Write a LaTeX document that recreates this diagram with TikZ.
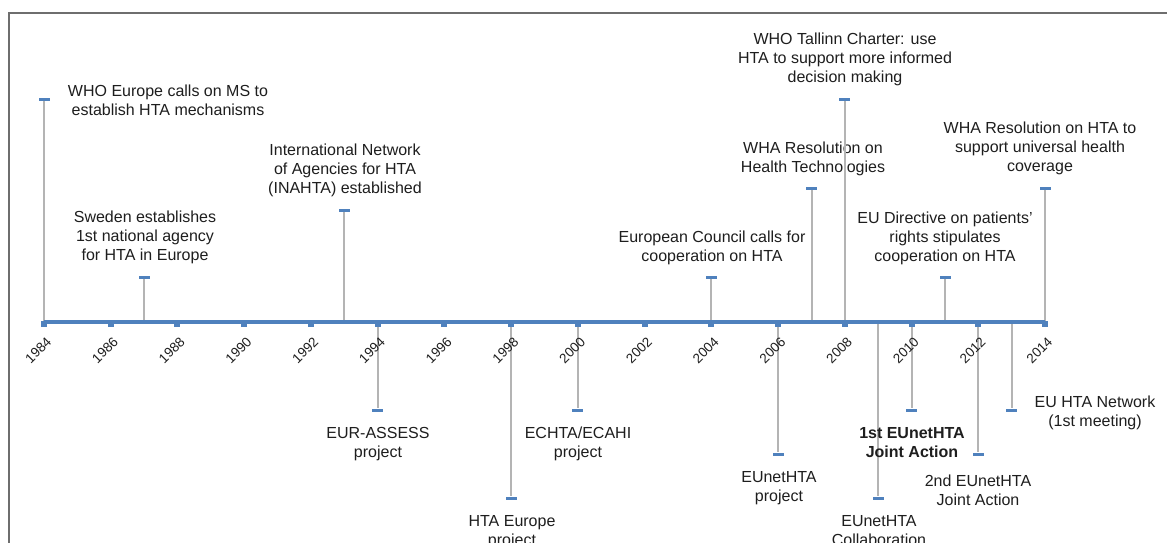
\documentclass[tikz,border=0pt]{standalone}
\usepackage{fontspec}
\setmainfont{Liberation Sans}
\definecolor{axisblue}{RGB}{79,129,189}
\definecolor{stemgray}{RGB}{180,180,180}
\definecolor{textgray}{RGB}{30,30,30}
\definecolor{framegray}{RGB}{110,110,110}

% one event: year, marker y, label centre x, first-line centre y, extra label style, text
\newcommand\tlevent[6]{%
  \pgfmathsetmacro\evx{44+(#1-1984)*33.37}%
  \coordinate (a#1) at (\evx,322);
  \node[evtmark] (m#1) at (\evx,#2) {};
  \draw[stemline] (a#1) -- (m#1);
  \node[eventlbl,#5] (l#1) at (#3,#4-6) {#6};
}

\begin{document}
\begin{tikzpicture}[x=1pt,y=-1pt,
  stemline/.style={draw=stemgray,line width=2pt},
  evtmark/.style={rectangle,fill=axisblue,draw=none,minimum width=11pt,minimum height=3pt,inner sep=0pt},
  eventlbl/.style={align=center,font=\fontsize{16}{19}\selectfont,text=textgray,inner sep=0pt,anchor=north},
  boldlbl/.style={font=\fontsize{16}{19}\selectfont\bfseries},
  plainlbl/.style={},
  yearlbl/.style={font=\fontsize{13.5}{15}\selectfont,text=textgray,rotate=45,anchor=north east,inner sep=0pt},
  tickbox/.style={rectangle,fill=axisblue,draw=none,minimum width=6pt,minimum height=6pt,inner sep=0pt}
]
\useasboundingbox (0,0) rectangle (1167,542);
\fill[white] (0,0) rectangle (1167,542);

% chart frame
\draw[framegray,line width=1.3pt] (9,560) -- (9,13) -- (1180,13);

% events above the axis
\tlevent{1984}{99}{168}{91}{plainlbl}{WHO Europe calls on MS to\\establish HTA mechanisms}
\tlevent{1987}{277}{145}{217}{plainlbl}{Sweden establishes\\1st national agency\\for HTA in Europe}
\tlevent{1993}{210}{345}{150}{plainlbl}{International Network\\of Agencies for HTA\\(INAHTA) established}
\tlevent{2004}{277}{712}{237}{plainlbl}{European Council calls for\\cooperation on HTA}
\tlevent{2007}{188}{813}{148}{plainlbl}{WHA Resolution on\\Health Technologies}
\tlevent{2008}{99}{845}{39}{plainlbl}{WHO Tallinn Charter: use\\HTA to support more informed\\decision making}
\tlevent{2011}{277}{945}{218}{plainlbl}{EU Directive on patients'\\rights stipulates\\cooperation on HTA}
\tlevent{2014}{188}{1040}{128}{plainlbl}{WHA Resolution on HTA to\\support universal health\\coverage}

% events below the axis
\tlevent{1994}{410}{378}{433}{plainlbl}{EUR-ASSESS\\project}
\tlevent{1998}{498}{512}{521}{plainlbl}{HTA Europe\\project}
\tlevent{2000}{410}{578}{433}{plainlbl}{ECHTA/ECAHI\\project}
\tlevent{2006}{454}{779}{477}{plainlbl}{EUnetHTA\\project}
\tlevent{2009}{498}{879}{521}{plainlbl}{EUnetHTA\\Collaboration}
\tlevent{2010}{410}{912}{433}{boldlbl}{1st EUnetHTA\\Joint Action}
\tlevent{2012}{454}{978}{481}{plainlbl}{2nd EUnetHTA\\Joint Action}
\tlevent{2013}{410}{1095}{402}{plainlbl}{EU HTA Network\\(1st meeting)}

% time axis with ticks and year labels
\coordinate (ax0) at (44,322);
\coordinate (ax1) at (1045.1,322);
\draw[axisblue,line width=4.5pt] (ax0) -- (ax1);
\foreach \yr in {1984,1986,...,2014}{
  \pgfmathsetmacro\tx{44+(\yr-1984)*33.37}
  \node[tickbox] (t\yr) at (\tx,324) {};
  \node[yearlbl] (y\yr) at (\tx+1.5,336) {\yr};
}
\end{tikzpicture}
\end{document}
